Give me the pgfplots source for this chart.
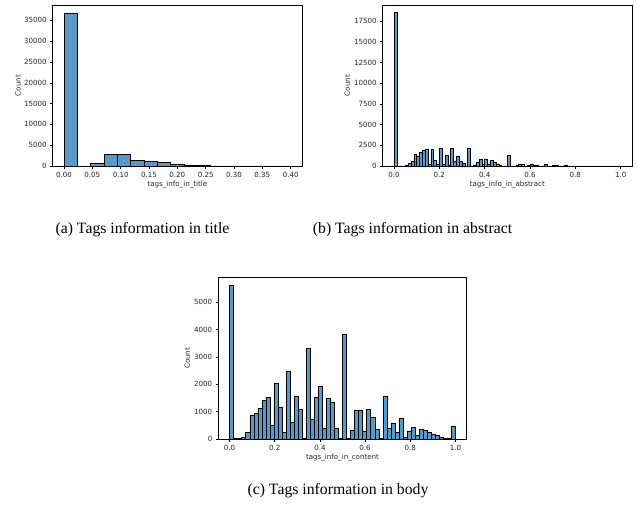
\documentclass[border=0pt]{standalone}
\usepackage{fontspec}
\setmainfont{Liberation Serif}
\newfontfamily\djv{DejaVu Sans}
\usepackage{pgfplots}
\pgfplotsset{compat=1.18}
\definecolor{barblue}{RGB}{87,153,199}
\pgfplotsset{
  histax/.style={
    scale only axis, width=249.3pt, height=161pt,
    ymin=0, axis line style={line width=0.6pt, black},
    tick pos=left, tick align=outside, major tick length=2.5pt,
    every tick/.style={black, line width=0.6pt},
    tick label style={font=\djv\fontsize{7.1}{8.5}\selectfont, text=black!85},
    label style={font=\djv\fontsize{7.1}{8.5}\selectfont, text=black!85},
    /pgf/number format/assume math mode=true,
    /pgf/number format/1000 sep={},
    scaled ticks=false,
    xlabel style={at={(axis description cs:0.5,-0.118)}, anchor=center},
    ylabel={Count},
  },
  histbar/.style={ybar interval, fill=barblue, draw=black, line width=0.5pt},
}
\begin{document}
\begin{tikzpicture}
\useasboundingbox (0pt,0pt) rectangle (637pt,-504pt);
% (a)
\begin{axis}[histax, at={(52.7pt,-166pt)}, anchor=south west,
  xmin=-0.02, xmax=0.42, ymax=38700,
  xtick={0,0.05,0.1,0.15,0.2,0.25,0.3,0.35,0.4},
  xticklabel style={/pgf/number format/.cd, fixed, fixed zerofill, precision=2},
  ytick={0,5000,10000,15000,20000,25000,30000,35000},
  xlabel={tags\_info\_in\_title},
  ylabel style={at={(axis description cs:-0.139,0.5)}, anchor=center}]
\addplot[histbar] coordinates {
(0,36800) (0.023529,0) (0.047059,650) (0.070588,2720) (0.094118,2720)
(0.117647,1370) (0.141176,1130) (0.164706,800) (0.188235,400) (0.211765,150)
(0.235294,120) (0.258824,30) (0.282353,15) (0.305882,8) (0.329412,4)
(0.352941,2) (0.376471,3) (0.4,0)};
\end{axis}
% (b)
\begin{axis}[histax, at={(382.7pt,-166pt)}, anchor=south west,
  xmin=-0.05, xmax=1.05, ymax=19430,
  xtick={0,0.2,0.4,0.6,0.8,1.0},
  xticklabel style={/pgf/number format/.cd, fixed, fixed zerofill, precision=1},
  ytick={0,2500,5000,7500,10000,12500,15000,17500},
  xlabel={tags\_info\_in\_abstract},
  ylabel style={at={(axis description cs:-0.142,0.5)}, anchor=center}]
\addplot[histbar] coordinates {
(0,18500) (0.0125,0) (0.025,5) (0.0375,30) (0.05,80) (0.0625,320) (0.075,560)
(0.0875,1370) (0.1,1210) (0.1125,1610) (0.125,1850) (0.1375,2010) (0.15,240)
(0.1625,2010) (0.175,650) (0.1875,160) (0.2,2100) (0.2125,160) (0.225,1290)
(0.2375,80) (0.25,2130) (0.2625,600) (0.275,1230) (0.2875,560) (0.3,280)
(0.3125,10) (0.325,2100) (0.3375,20) (0.35,150) (0.3625,420) (0.375,800)
(0.3875,160) (0.4,850) (0.4125,240) (0.425,650) (0.4375,400) (0.45,240)
(0.4625,50) (0.475,5) (0.4875,5) (0.5,1350) (0.5125,5) (0.525,20) (0.5375,80)
(0.55,230) (0.5625,230) (0.575,30) (0.5875,60) (0.6,240) (0.6125,40)
(0.625,120) (0.6375,30) (0.65,20) (0.6625,230) (0.675,20) (0.6875,30)
(0.7,60) (0.7125,80) (0.725,20) (0.7375,10) (0.75,100) (0.7625,5) (0.775,5)
(0.7875,3) (0.8,8) (0.8125,2) (0.825,3) (0.8375,4) (0.85,2) (0.8625,2)
(0.875,3) (0.8875,1) (0.9,2) (0.9125,1) (0.925,1) (0.9375,1) (0.95,1)
(0.9625,1) (0.975,1) (0.9875,10) (1.0,0)};
\end{axis}
% (c)
\begin{axis}[histax, at={(218.3pt,-439pt)}, anchor=south west,
  width=248.4pt, height=161.3pt,
  xmin=-0.05, xmax=1.05, ymax=5900,
  xtick={0,0.2,0.4,0.6,0.8,1.0},
  xticklabel style={/pgf/number format/.cd, fixed, fixed zerofill, precision=1},
  ytick={0,1000,2000,3000,4000,5000},
  xlabel={tags\_info\_in\_content},
  ylabel style={at={(axis description cs:-0.125,0.5)}, anchor=center}]
\addplot[histbar] coordinates {
(0,5620) (0.017857,10) (0.035714,20) (0.053571,60) (0.071429,240)
(0.089286,870) (0.107143,940) (0.125,1110) (0.142857,1410) (0.160714,1520)
(0.178571,510) (0.196429,2030) (0.214286,1180) (0.232143,230) (0.25,2480)
(0.267857,600) (0.285714,1560) (0.303571,1080) (0.321429,10) (0.339286,3320)
(0.357143,730) (0.375,1510) (0.392857,1920) (0.410714,400) (0.428571,1480)
(0.446429,1340) (0.464286,400) (0.482143,10) (0.5,3830) (0.517857,10)
(0.535714,320) (0.553571,1070) (0.571429,1070) (0.589286,280) (0.607143,1080)
(0.625,800) (0.642857,370) (0.660714,20) (0.678571,1560) (0.696429,400)
(0.714286,580) (0.732143,230) (0.75,760) (0.767857,60) (0.785714,300)
(0.803571,420) (0.821429,130) (0.839286,360) (0.857143,320) (0.875,250)
(0.892857,160) (0.910714,140) (0.928571,60) (0.946429,20) (0.964286,10)
(0.982143,450) (1.0,0)};
\end{axis}
\node[anchor=base, font=\fontsize{15.75}{18}\selectfont] at (142.5pt,-233pt) {(a) Tags information in title};
\node[anchor=base, font=\fontsize{15.75}{18}\selectfont] at (412.5pt,-233pt) {(b) Tags information in abstract};
\node[anchor=base, font=\fontsize{15.75}{18}\selectfont] at (338pt,-494pt) {(c) Tags information in body};
\end{tikzpicture}
\end{document}
